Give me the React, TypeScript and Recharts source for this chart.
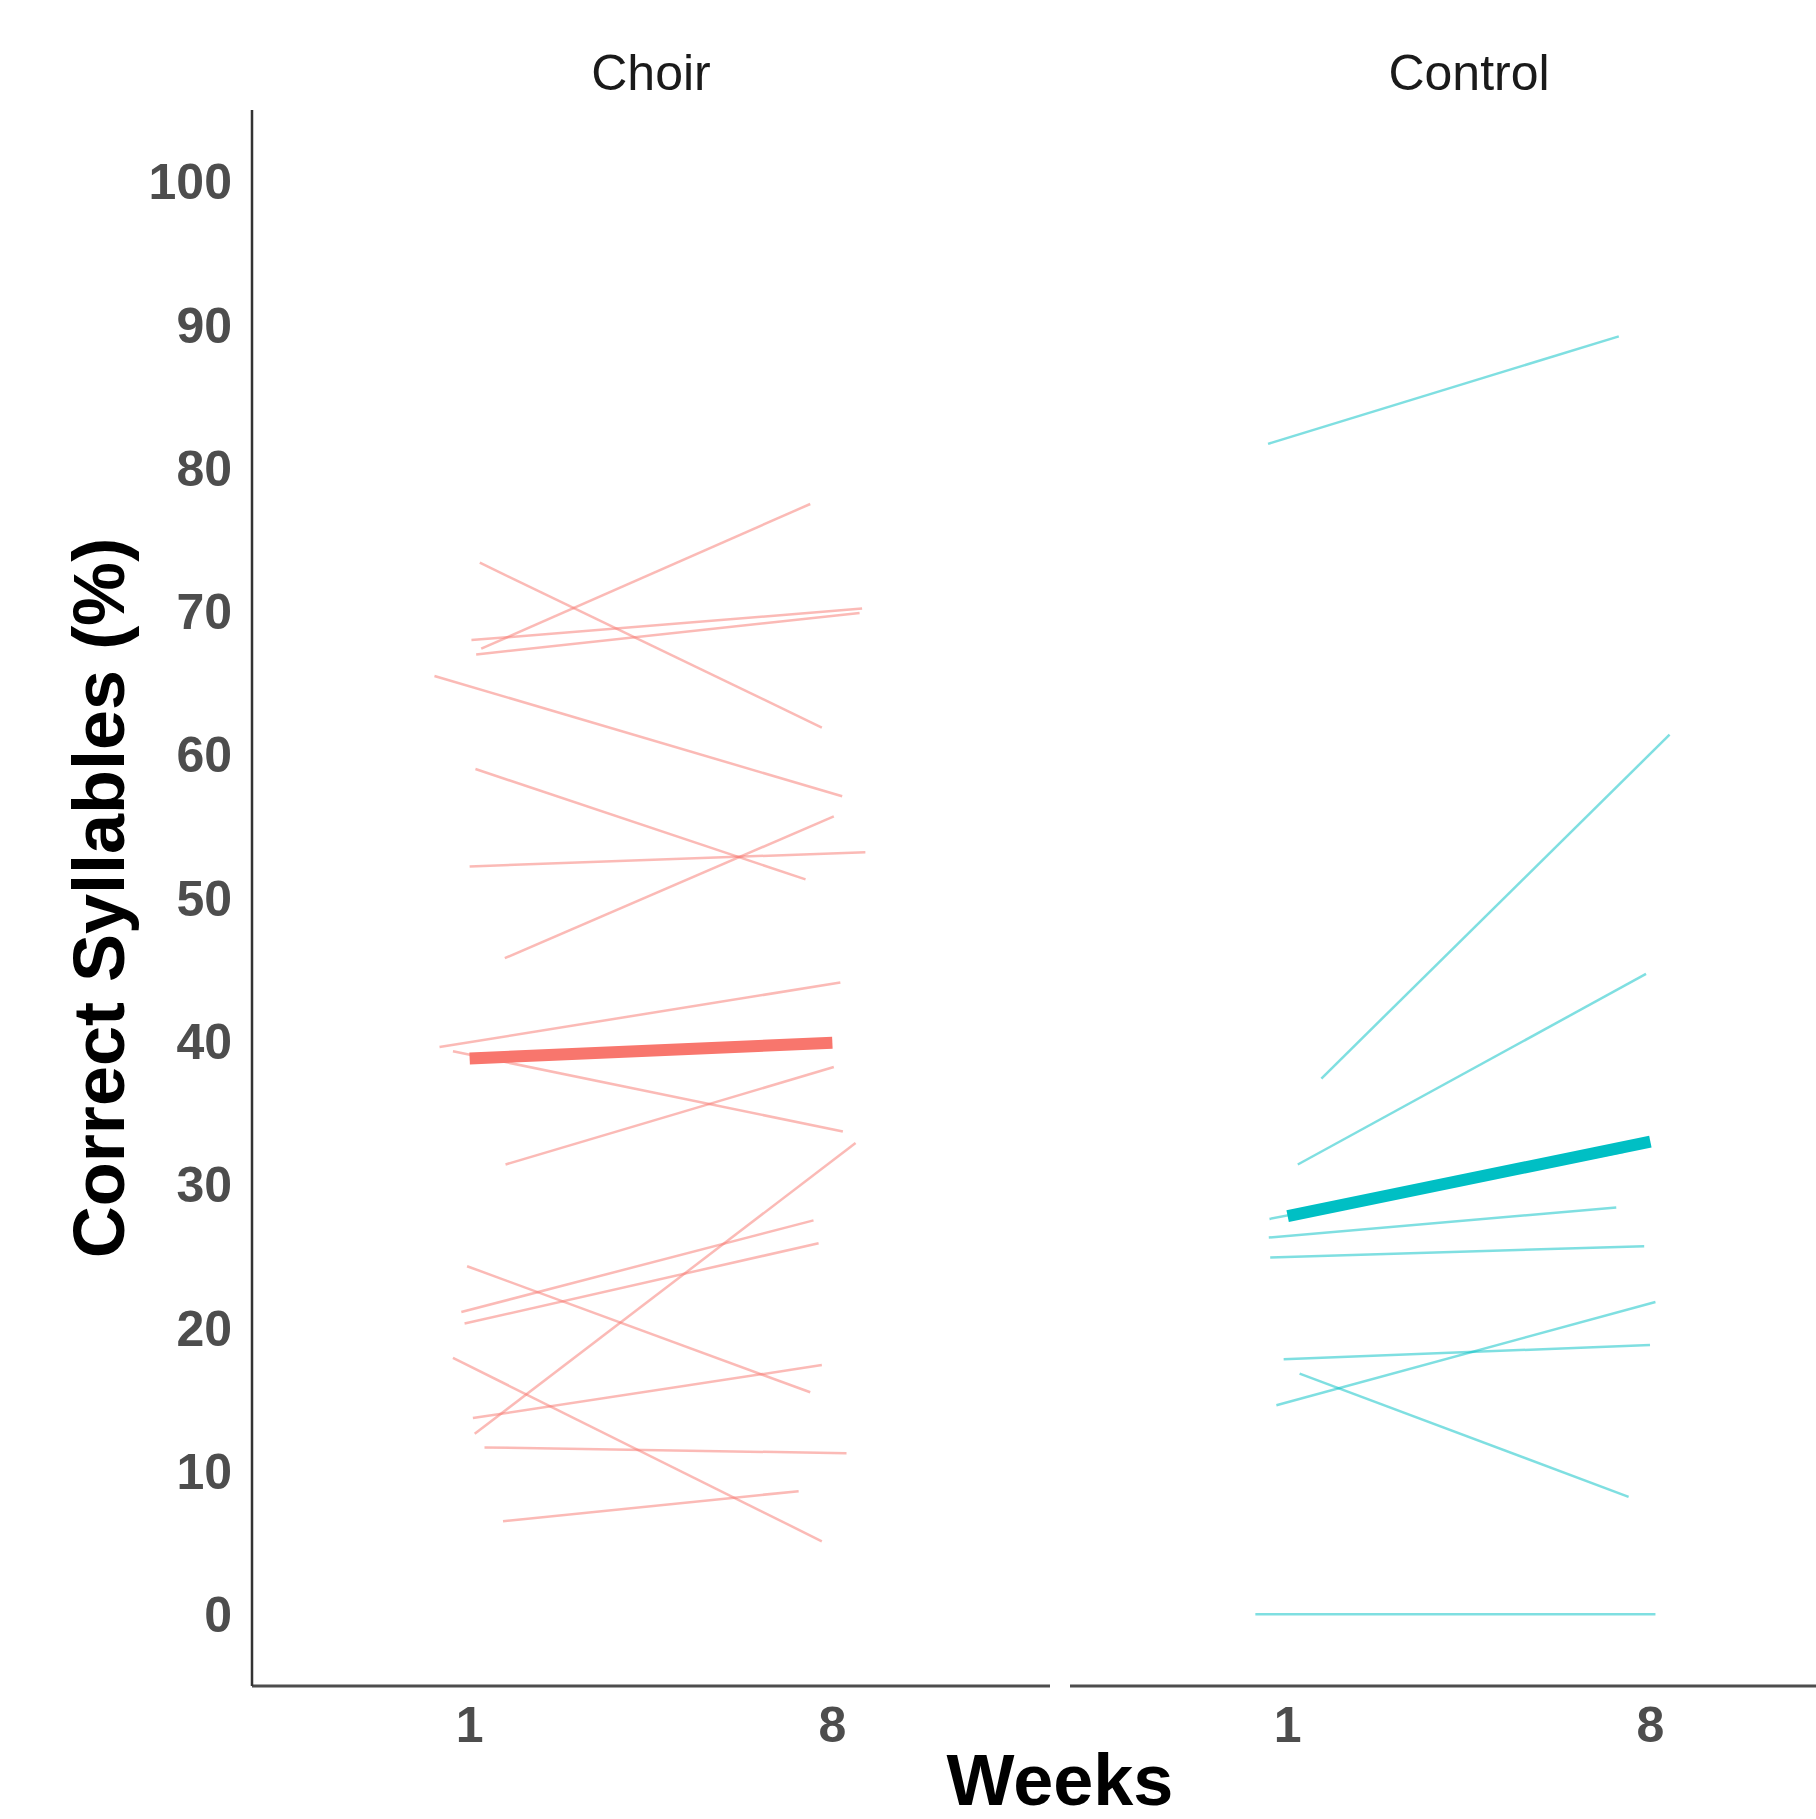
import React from 'react';
import { LineChart, Line, XAxis, YAxis } from 'recharts';

const FONT = '"Liberation Sans", Arial, sans-serif';

// tick labels
const weekLabels = ['1', '8'];
const yTicks = [0, 10, 20, 30, 40, 50, 60, 70, 80, 90, 100];

// Choir: one row per child, week 1 and week 8 (x positions are jittered in the original)
const choirWeek1 = [67.4, 73.4, 68.0, 67.0, 65.5, 59.0, 45.8, 52.2, 39.6, 39.3, 31.4, 12.6, 21.1, 20.3, 24.3, 13.7, 17.9, 11.65, 6.5];
const choirWeek8 = [77.5, 61.9, 70.2, 69.9, 57.1, 51.3, 55.7, 53.2, 44.1, 33.7, 38.2, 32.9, 27.5, 25.9, 15.5, 17.4, 5.1, 11.25, 8.6];
const choirX1 = [1.032, 1.028, 1.005, 1.018, 0.903, 1.016, 1.097, 1.0, 0.917, 0.954, 1.099, 1.014, 0.977, 0.986, 0.993, 1.009, 0.954, 1.041, 1.092];
const choirX8 = [1.939, 1.971, 2.082, 2.075, 2.027, 1.926, 2.004, 2.091, 2.022, 2.029, 2.004, 2.064, 1.948, 1.962, 1.939, 1.971, 1.971, 2.039, 1.907];
const choirMean = [38.8, 39.9];

// Control
const controlWeek1 = [81.7, 37.4, 31.4, 27.6, 26.3, 24.9, 14.6, 17.8, 16.8, 0];
const controlWeek8 = [89.2, 61.4, 44.7, 32.3, 28.4, 25.7, 21.8, 18.8, 8.2, 0];
const controlX1 = [0.946, 1.093, 1.028, 0.95, 0.948, 0.952, 0.969, 0.989, 1.033, 0.911];
const controlX8 = [1.913, 2.053, 1.988, 1.93, 1.906, 1.983, 2.014, 1.999, 1.94, 2.014];
const controlMean = [27.8, 33.0];

const CHOIR = '#F8766D';
const CONTROL = '#00BFC4';

const toSeries = (w1: number[], w8: number[], x1: number[], x8: number[]) =>
  w1.map((v, i) => [
    { x: x1[i], y: v },
    { x: x8[i], y: w8[i] },
  ]);

const meanSeries = (m: number[]) => [
  { x: 1, y: m[0] },
  { x: 2, y: m[1] },
];

const tickStyle = { fill: '#4d4d4d', fontSize: 50, fontWeight: 700, fontFamily: FONT };

function PanelText(props: any) {
  const { viewBox, title, axisTitle } = props;
  if (!viewBox) return null;
  const cx = viewBox.x + viewBox.width / 2;
  return (
    <g>
      <text x={cx} y={90} textAnchor="middle" fill="#1a1a1a" fontSize={50} fontFamily={FONT}>
        {title}
      </text>
      {axisTitle && (
        <text
          x={viewBox.x + viewBox.width + 10}
          y={1805}
          textAnchor="middle"
          fill="#000"
          fontSize={72}
          fontWeight={700}
          fontFamily={FONT}
        >
          {axisTitle}
        </text>
      )}
    </g>
  );
}

function YTitle(props: any) {
  const { viewBox } = props;
  if (!viewBox) return null;
  const cx = 124;
  const cy = viewBox.y + viewBox.height / 2;
  return (
    <text
      x={cx}
      y={cy}
      transform={`rotate(-90, ${cx}, ${cy})`}
      textAnchor="middle"
      fill="#000"
      fontSize={72}
      fontWeight={700}
      fontFamily={FONT}
    >
      Correct Syllables (%)
    </text>
  );
}

function Panel({ series, mean, color, title, axisTitle, showY, width, margin }: any) {
  return (
    <LineChart width={width} height={1819} margin={margin}>
      <XAxis
        dataKey="x"
        type="number"
        domain={[0.4, 2.6]}
        ticks={[1, 2]}
        tickFormatter={(v: number) => weekLabels[Math.round(v) - 1]}
        height={80}
        tickLine={false}
        tickSize={0}
        tickMargin={20}
        axisLine={{ stroke: '#4d4d4d', strokeWidth: 3 }}
        tick={tickStyle}
        label={<PanelText title={title} axisTitle={axisTitle} />}
      />
      {showY ? (
        <YAxis
          type="number"
          domain={[-5, 105]}
          ticks={yTicks}
          interval={0}
          width={100}
          tickLine={false}
          tickSize={0}
          tickMargin={20}
          axisLine={{ stroke: '#333', strokeWidth: 2.5 }}
          tick={tickStyle}
          label={<YTitle />}
        />
      ) : (
        <YAxis type="number" domain={[-5, 105]} hide />
      )}
      {series.map((d: any, i: number) => (
        <Line
          key={i}
          data={d}
          dataKey="y"
          type="linear"
          stroke={color}
          strokeOpacity={0.5}
          strokeWidth={2.5}
          dot={false}
          activeDot={false}
          isAnimationActive={false}
        />
      ))}
      <Line
        data={meanSeries(mean)}
        dataKey="y"
        type="linear"
        stroke={color}
        strokeWidth={12}
        strokeLinecap="butt"
        dot={false}
        activeDot={false}
        isAnimationActive={false}
      />
    </LineChart>
  );
}

export default function App() {
  const choirSeries = toSeries(choirWeek1, choirWeek8, choirX1, choirX8);
  const controlSeries = toSeries(controlWeek1, controlWeek8, controlX1, controlX8);

  return (
    <div
      style={{
        position: 'fixed',
        left: 0,
        top: 0,
        width: 1816,
        height: 1819,
        overflow: 'hidden',
        background: '#fff',
      }}
    >
      <div style={{ position: 'absolute', left: 0, top: 0 }}>
        <Panel
          series={choirSeries}
          mean={choirMean}
          color={CHOIR}
          title="Choir"
          axisTitle="Weeks"
          showY
          width={1816}
          margin={{ top: 110, right: 766, bottom: 53, left: 152 }}
        />
      </div>
      <div style={{ position: 'absolute', left: 1070, top: 0 }}>
        <Panel
          series={controlSeries}
          mean={controlMean}
          color={CONTROL}
          title="Control"
          showY={false}
          width={798}
          margin={{ top: 110, right: 0, bottom: 53, left: 0 }}
        />
      </div>
    </div>
  );
}
